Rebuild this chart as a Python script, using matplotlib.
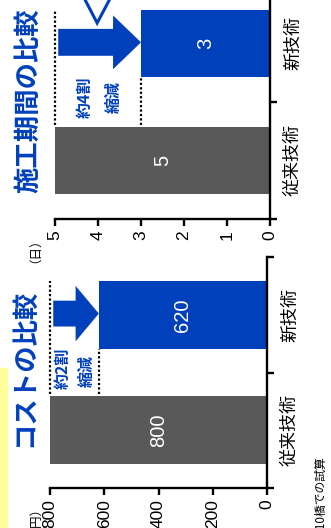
import matplotlib
matplotlib.use('Agg')
import matplotlib.pyplot as plt
from matplotlib.patches import Polygon, Rectangle

# ---- data ----
categories = ['従来技術', '新技術']
days = [5, 3]
day_ticks = [0, 1, 2, 3, 4, 5]
cost = [800, 620]
cost_ticks = [0, 200, 400, 600, 800]
title_days = '施工期間の比較'
title_cost = 'コストの比較'
unit_days = '（日）'
unit_cost = '（千円）'
reduce_days = ['約4割', '縮減']
reduce_cost = ['約2割', '縮減']
footnote = '※モデル橋10橋での試算'

W, H = 331, 528
fig = plt.figure(figsize=(W / 100, H / 100), dpi=100)

def fx(px):
    return px / W

def fy(py):
    return 1 - py / H

BLUE = '#0040BB'
GRAY = '#595959'
JP = ['Noto Sans CJK JP', 'DejaVu Sans']
NUM = ['Liberation Sans', 'DejaVu Sans']

# yellow strip
fig.patches.append(Rectangle((0, fy(528)), fx(7), fy(368) - fy(528),
                             transform=fig.transFigure, color='#FFFF99', zorder=0))


def panel(left, right, ybot, ytop, values, ticks, bar_h=0.57,
          head_frac=0.13, shaft_hw=0.115, head_hw=0.23):
    ax = fig.add_axes([fx(left), fy(ybot), fx(right) - fx(left), fy(ytop) - fy(ybot)])
    ax.patch.set_alpha(0)
    ypos = list(range(len(values)))
    ax.barh(ypos, values, height=bar_h, color=[GRAY, BLUE], zorder=2)
    ax.set_xlim(max(ticks), 0)
    ax.set_ylim(-0.5, 1.5)
    for s in ['left', 'top']:
        ax.spines[s].set_visible(False)
    for s in ['bottom', 'right']:
        ax.spines[s].set_linewidth(1.7)
    ax.yaxis.tick_right()
    ax.set_yticks(ypos)
    ax.set_yticklabels(categories, rotation=90, va='center', ha='left',
                       fontfamily=JP, fontsize=13)
    ax.set_yticks([-0.5, 0.5, 1.5], minor=True)
    ax.tick_params(axis='y', which='major', length=0, pad=10)
    ax.tick_params(axis='y', which='minor', length=5, width=1.7, direction='out')
    ax.set_xticks(ticks)
    ax.set_xticklabels([str(t) for t in ticks], rotation=90, fontfamily=NUM, fontsize=12.5)
    ax.tick_params(axis='x', length=5, width=1.7, pad=3)
    for i, v in enumerate(values):
        ax.text(v / 2, i, str(v), rotation=90, color='white', ha='center', va='center',
                fontsize=14.5, fontfamily=NUM, zorder=3)
    # dotted guide lines
    old, new = values[0], values[1]
    top_old = 0 + bar_h / 2 + 0.02
    ax.plot([old, old], [top_old, 1 + bar_h / 2], color='black', lw=1.6,
            linestyle=(0, (1, 1)), zorder=1, clip_on=False)
    ax.plot([new, new], [top_old, 1 - bar_h / 2], color='black', lw=1.6,
            linestyle=(0, (1, 1)), zorder=1, clip_on=False)
    # arrow
    span = max(ticks)
    tail = old - span * 0.015
    hb = new + span * head_frac
    yc = 1.01
    pts = [(tail, yc + shaft_hw), (hb, yc + shaft_hw), (hb, yc + head_hw), (new, yc),
           (hb, yc - head_hw), (hb, yc - shaft_hw), (tail, yc - shaft_hw)]
    ax.add_patch(Polygon(pts, closed=True, color=BLUE, lw=0, zorder=2, clip_on=False))
    return ax


ax1 = panel(55, 270, 219, -15, days, day_ticks)
ax2 = panel(50, 267, 488, 257, cost, cost_ticks, bar_h=0.59, head_frac=0.107,
            shaft_hw=0.112, head_hw=0.24)

# bubble pointer outline on top chart
ax1.plot([4.55, 4.02, 3.48], [1.55, 1.175, 1.55], color=BLUE, lw=2.2,
         clip_on=False, zorder=4, solid_joinstyle='miter')

# titles
fig.text(fx(29), fy(193), title_days, rotation=90, ha='center', va='bottom',
         fontsize=19, fontweight='bold', color=BLUE, fontfamily=JP)
fig.text(fx(25), fy(447), title_cost, rotation=90, ha='center', va='bottom',
         fontsize=19, fontweight='bold', color=BLUE, fontfamily=JP)

# units
fig.text(fx(29), fy(244), unit_days, rotation=90, ha='center', va='center',
         fontsize=9, fontfamily=JP)
fig.text(fx(29), fy(494), unit_cost, rotation=90, ha='center', va='top',
         fontsize=9, fontfamily=JP)

# reduction texts
fig.text(fx(85), fy(97), reduce_days[0], rotation=90, ha='center', va='center',
         fontsize=11.5, fontweight='bold', color=BLUE, fontfamily=JP)
fig.text(fx(114), fy(97), reduce_days[1], rotation=90, ha='center', va='center',
         fontsize=11.5, fontweight='bold', color=BLUE, fontfamily=JP)
fig.text(fx(63), fy(368), reduce_cost[0], rotation=90, ha='center', va='center',
         fontsize=11.5, fontweight='bold', color=BLUE, fontfamily=JP)
fig.text(fx(87), fy(371), reduce_cost[1], rotation=90, ha='center', va='center',
         fontsize=11.5, fontweight='bold', color=BLUE, fontfamily=JP)

# footnote
fig.text(fx(320), fy(455), footnote, rotation=90, ha='center', va='top',
         fontsize=8.5, fontfamily=JP)

fig.savefig('out.png', dpi=100)
